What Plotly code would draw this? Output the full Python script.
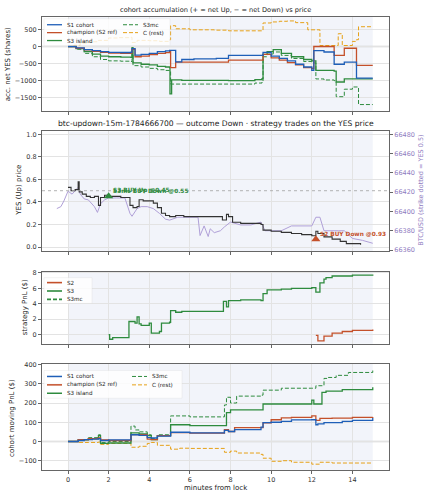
import plotly.graph_objects as go

# ---------------- data ----------------
# panel 1: accumulated net YES shares
acc_s1_x = [0,0.4,0.8,1.2,1.6,2.0,2.6,3.1,3.15,3.3,3.6,4.0,4.4,4.8,5.0,5.3,5.6,6.2,7.3,7.9,9.55,9.6,10.0,10.4,10.8,11.2,11.6,12.0,12.1,12.6,13.1,13.6,14.2,15.0]
acc_s1_y = [0,-40,-90,-120,-150,-170,-175,-165,-60,-250,-230,-200,-150,-130,-110,-450,-380,-360,-350,-260,-260,-170,-280,-350,-420,-520,-600,-700,-120,-160,-520,-460,-925,-925]
acc_s2_x = [0,0.4,0.8,1.2,1.6,2.0,2.6,3.1,3.15,3.3,3.6,4.0,4.4,4.8,5.0,5.05,5.3,6.2,7.3,7.9,9.55,9.6,10.0,10.4,10.8,11.2,11.6,12.0,12.1,13.1,13.6,14.2,15.0]
acc_s2_y = [0,-50,-100,-140,-170,-190,-200,-190,-80,-300,-280,-240,-200,-180,-150,-620,-460,-460,-460,-400,-400,-230,-330,-400,-470,-540,-620,-650,0,-260,-50,-550,-550]
acc_s3_x = [0,0.4,0.8,1.2,1.6,2.0,2.6,3.1,3.15,3.2,3.6,4.0,4.4,4.8,5.0,5.02,5.1,5.6,6.2,7.3,7.9,9.2,9.55,9.6,9.8,10.1,10.5,11.0,11.6,12.0,12.2,13.1,13.2,13.6,15.0]
acc_s3_y = [0,-60,-150,-220,-280,-300,-310,-320,-30,-480,-520,-540,-580,-600,-620,-1385,-980,-990,-990,-990,-1000,-970,-940,-230,-150,-90,-200,-300,-380,-420,-700,-720,-1040,-950,-950]
acc_s3mc_x = [0,0.4,0.8,1.2,1.6,2.0,2.6,3.1,3.15,3.2,3.6,4.0,4.4,4.8,5.0,5.05,5.6,7.3,7.9,9.2,9.55,9.6,9.8,10.1,10.5,11.0,11.6,12.0,12.2,12.6,13.1,13.2,13.6,14.0,14.3,15.0]
acc_s3mc_y = [0,-80,-200,-300,-380,-420,-430,-440,-200,-560,-600,-640,-680,-700,-720,-1100,-1100,-1100,-1100,-1070,-1040,-300,-220,-160,-260,-350,-440,-480,-950,-980,-1000,-1470,-1250,-1185,-1700,-1700]
acc_c_x = [0,0.3,0.6,1.0,1.5,2.0,2.5,3.1,3.15,3.4,4.0,4.5,5.0,5.05,5.3,6.0,7.2,7.9,9.55,9.6,10.0,10.4,10.8,11.2,11.8,12.4,13.2,13.3,13.5,14.0,14.2,14.3,15.0]
acc_c_y = [0,40,100,140,180,250,260,270,120,180,170,150,200,610,520,490,480,460,460,690,720,740,750,700,490,30,30,375,30,150,200,580,580]

# panel 2: YES price and BTC
yes_x = [0,0.15,0.35,0.5,0.55,0.7,0.9,1.1,1.3,1.5,1.6,1.8,2.0,2.3,2.6,2.9,3.05,3.2,3.4,3.5,3.7,4.0,4.2,4.4,4.6,4.8,5.0,5.3,5.7,6.2,7.5,7.6,7.8,7.9,8.1,8.5,9.0,9.5,9.6,10.0,10.5,11.0,11.5,12.0,12.2,12.3,12.6,13.0,13.4,13.7,14.4]
yes_y = [0.53,0.50,0.51,0.58,0.49,0.47,0.45,0.44,0.45,0.37,0.44,0.46,0.45,0.45,0.44,0.44,0.37,0.35,0.36,0.42,0.41,0.41,0.39,0.35,0.30,0.28,0.27,0.28,0.27,0.27,0.27,0.24,0.29,0.27,0.22,0.21,0.21,0.20,0.15,0.14,0.13,0.12,0.11,0.10,0.14,0.12,0.09,0.07,0.05,0.03,0.02]
btc_x = [-0.55,-0.35,-0.2,0,0.2,0.5,0.6,0.8,1.0,1.3,1.45,1.6,1.8,2.0,2.4,2.8,3.05,3.15,3.4,3.6,3.9,4.2,4.5,4.8,5.0,5.4,5.8,6.4,6.5,6.7,6.9,7.0,7.2,7.5,7.7,8.0,8.5,9.0,9.5,9.7,10.5,11.0,12.0,12.2,12.4,12.6,13.3,13.6,14.0,14.5,15.0]
btc_y = [66403,66405,66411,66421,66418,66425,66418,66413,66412,66405,66399,66408,66412,66414,66414,66414,66398,66395,66403,66405,66405,66403,66398,66392,66391,66394,66394,66394,66375,66385,66374,66382,66378,66380,66384,66389,66386,66386,66389,66380,66380,66385,66385,66394,66394,66380,66380,66380,66372,66370,66367]
strike_price = 0.5
trade_x = [2.0, 12.2]
trade_y = [0.45, 0.07]
trade_labels = ["S3 BUY Up @0.45", "S3mc BUY Down @0.55", "S2 BUY Down @0.93"]

# panel 3: strategy PnL
pnl_s3_x = [2.0,2.05,2.2,2.95,3.0,3.3,3.4,3.5,3.6,4.0,4.1,4.5,4.6,5.0,5.05,5.3,5.6,6.0,7.6,7.65,7.8,7.9,8.5,9.5,9.6,9.8,10.5,11.0,12.0,12.2,12.4,12.6,12.7,13.0,14.0,15.0]
pnl_s3_y = [0,-0.6,-0.4,-0.4,1.7,1.5,2.3,1.4,1.2,1.5,0.2,0.4,1.5,1.6,3.1,2.9,3.0,3.0,3.0,4.3,3.6,4.4,4.5,4.4,5.3,5.8,5.9,6.0,6.1,5.5,6.7,7.2,7.4,7.6,7.7,7.8]
pnl_s2_x = [12.2,12.3,12.6,13.0,13.5,14.0,15.0]
pnl_s2_y = [-0.1,-0.8,-0.2,0.2,0.4,0.55,0.65]

# panel 4: cohort moving PnL
mv_s1_x = [0,0.5,0.8,1.2,1.5,1.6,2.0,3.05,3.1,3.5,3.9,4.1,4.4,5.0,5.05,6.0,7.5,7.7,7.9,8.2,9.5,9.6,10.0,10.5,11.0,12.0,12.2,12.3,12.6,13.5,14.0,15.0]
mv_s1_y = [0,5,10,12,15,5,8,8,35,32,20,18,28,28,48,45,45,58,52,62,75,98,100,105,112,113,87,92,98,105,110,122]
mv_s2_x = [0,0.5,1.0,1.5,1.6,2.0,3.05,3.1,3.5,3.9,4.1,4.4,5.0,5.05,6.0,7.5,7.7,7.9,8.2,9.5,9.6,10.0,10.5,11.0,12.0,12.2,12.4,13.0,14.0,15.0]
mv_s2_y = [0,10,15,18,8,5,5,36,35,12,10,30,30,46,44,44,62,52,72,72,97,113,123,125,133,110,120,122,125,128]
mv_s3_x = [0,0.5,1.0,1.45,1.5,1.6,2.0,3.05,3.1,3.5,3.9,4.1,4.4,5.0,5.05,6.0,7.7,7.8,8.0,9.5,9.6,10.5,12.0,12.1,12.5,12.7,13.5,15.0]
mv_s3_y = [0,8,15,15,30,-10,-8,-8,45,40,30,10,30,30,87,82,82,150,164,164,195,195,215,195,255,262,270,282]
mv_s3mc_x = [0,0.5,1.0,1.5,1.6,2.0,3.05,3.1,3.3,3.5,3.9,4.1,4.4,5.0,5.05,6.0,7.5,7.7,7.8,8.0,8.3,9.5,9.6,10.5,12.0,12.2,12.6,12.8,13.2,13.8,15.0]
mv_s3mc_y = [0,10,20,35,-5,0,0,80,60,50,35,15,35,35,133,128,128,190,230,200,236,241,267,277,277,290,328,333,344,359,369]
mv_c_x = [0,0.5,1.0,1.5,1.6,2.0,3.05,3.1,3.5,3.9,4.1,4.4,5.0,5.05,5.5,6.0,7.5,7.7,8.0,8.3,9.5,9.6,10.0,10.5,11.0,12.0,12.4,13.0,15.0]
mv_c_y = [0,-5,-5,-3,-15,-10,-10,-30,-25,-10,-5,-20,-20,-40,-35,-36,-36,-56,-50,-60,-67,-87,-103,-100,-108,-118,-108,-112,-113]

x_ticks = [0,2,4,6,8,10,12,14]
cohort_names = ["S1 cohort", "champion (S2 ref)", "S3 island", "S3mc", "C (rest)"]
strategy_names = ["S2", "S3", "S3mc"]

# ---------------- styling ----------------
W, H = 429, 500
FONT = "DejaVu Sans"
BLUE = "#1f5fb8"
RED = "#c4502a"
GREEN = "#2e8b3e"
ORANGE = "#e6a117"
PURPLE = "#b0a0d8"
PURPLE_T = "#8f7cbf"
BLACK = "#333333"
SHADE = "#f2f4fa"
DASH = "4px,2px"

def py(p):
    return 1 - p / H

XD = [42 / W, 389 / W]
Y1 = [py(109), py(14)]
Y2 = [py(251), py(130)]
Y3 = [py(345), py(272)]
Y4 = [py(473), py(365)]

fig = go.Figure()

def step(x, y, color, xa, ya, dash="solid", width=1.3):
    fig.add_trace(go.Scatter(
        x=x, y=y, mode="lines", line=dict(color=color, width=width, dash=dash, shape="hv"),
        xaxis=xa, yaxis=ya, showlegend=False, hoverinfo="skip"))

# panel 1
step(acc_c_x, acc_c_y, ORANGE, "x", "y", dash=DASH, width=1.0)
step(acc_s3mc_x, acc_s3mc_y, GREEN, "x", "y", dash=DASH, width=1.0)
step(acc_s3_x, acc_s3_y, GREEN, "x", "y")
step(acc_s2_x, acc_s2_y, RED, "x", "y")
step(acc_s1_x, acc_s1_y, BLUE, "x", "y")

# panel 2: BTC on main (right) axis, price overlaid (left)
fig.add_trace(go.Scatter(x=btc_x, y=btc_y, mode="lines", line=dict(color=PURPLE, width=1.0),
                         xaxis="x2", yaxis="y2", showlegend=False))
fig.add_trace(go.Scatter(x=yes_x, y=yes_y, mode="lines", line=dict(color=BLACK, width=1.1, shape="hv"),
                         xaxis="x2", yaxis="y3", showlegend=False))
fig.add_trace(go.Scatter(x=trade_x, y=trade_y, mode="markers",
                         marker=dict(symbol="triangle-up", size=8, color=[GREEN, RED]),
                         xaxis="x2", yaxis="y3", showlegend=False))

# panel 3
step(pnl_s2_x, pnl_s2_y, RED, "x3", "y4")
step(pnl_s3_x, pnl_s3_y, GREEN, "x3", "y4")

# panel 4
step(mv_c_x, mv_c_y, ORANGE, "x4", "y5", dash=DASH, width=1.0)
step(mv_s3mc_x, mv_s3mc_y, GREEN, "x4", "y5", dash=DASH, width=1.0)
step(mv_s3_x, mv_s3_y, GREEN, "x4", "y5")
step(mv_s2_x, mv_s2_y, RED, "x4", "y5")
step(mv_s1_x, mv_s1_y, BLUE, "x4", "y5")

axis_common = dict(showline=True, mirror=True, linecolor="#666666", linewidth=1,
                   ticks="outside", ticklen=3, tickcolor="#666666", gridcolor="#e3e3e3",
                   gridwidth=0.6, zeroline=False, tickfont=dict(size=6.5, color="#333"))
XR = [-1.28, 15.8]
for name, anchor, labels in [("xaxis", "y", False), ("xaxis2", "y2", False),
                             ("xaxis3", "y4", False), ("xaxis4", "y5", True)]:
    fig.layout[name] = dict(domain=XD, anchor=anchor, range=XR, tickvals=x_ticks,
                            showticklabels=labels, **axis_common)

fig.layout.yaxis = dict(domain=Y1, anchor="x", range=[-1880, 870],
                        tickvals=[-1500, -1000, -500, 0, 500], **axis_common)
ax_btc = dict(axis_common)
ax_btc.update(tickfont=dict(size=6.5, color=PURPLE_T), showgrid=False)
fig.layout.yaxis2 = dict(domain=Y2, anchor="x2", side="right", range=[66359, 66483],
                         tickvals=[66360, 66380, 66400, 66420, 66440, 66460, 66480],
                         tickformat="d", **ax_btc)
fig.layout.yaxis3 = dict(overlaying="y2", anchor="x2", side="left", range=[-0.035, 1.026],
                         tickvals=[0, 0.2, 0.4, 0.6, 0.8, 1.0], tickformat=".1f", **axis_common)
fig.layout.yaxis4 = dict(domain=Y3, anchor="x3", range=[-1.2, 8.15],
                         tickvals=[0, 2, 4, 6, 8], **axis_common)
fig.layout.yaxis5 = dict(domain=Y4, anchor="x4", range=[-150, 405],
                         tickvals=[-100, 0, 100, 200, 300, 400], **axis_common)

shapes = []
for xr, yr in [("x", "y"), ("x2", "y2"), ("x3", "y4"), ("x4", "y5")]:
    shapes.append(dict(type="rect", xref=xr, yref=yr + " domain", x0=0, x1=15, y0=0, y1=1,
                       fillcolor=SHADE, line=dict(width=0), layer="below"))
for xr, yr in [("x", "y"), ("x4", "y5")]:
    shapes.append(dict(type="line", xref=xr + " domain", yref=yr, x0=0, x1=1, y0=0, y1=0,
                       line=dict(color="#cfcfcf", width=1.4), layer="below"))
shapes.append(dict(type="line", xref="x2 domain", yref="y3", x0=0, x1=1, y0=strike_price, y1=strike_price,
                   line=dict(color="#aaaaaa", width=0.9, dash="dot")))

ann = []
def text(t, xp, ypx, size=7, color="#222", angle=0, xanchor="center"):
    ann.append(dict(text=t, x=xp / W, y=py(ypx), xref="paper", yref="paper", showarrow=False,
                    xanchor=xanchor, yanchor="middle", textangle=angle,
                    font=dict(size=size, color=color)))

mid = (42 + 389) / 2
text("cohort accumulation (+ = net Up, − = net Down) vs price", mid, 7, size=6.6)
text("btc-updown-15m-1784666700 — outcome Down · strategy trades on the YES price", mid, 122, size=7.6)
text("minutes from lock", mid, 491, size=7)
text("acc. net YES (shares)", 8, 62, angle=-90)
text("YES (Up) price", 19, 190, angle=-90)
text("strategy PnL ($)", 25, 308, angle=-90)
text("cohort moving PnL ($)", 12, 420, angle=-90)
text("BTC/USD (strike dotted = YES 0.5)", 421, 190, angle=-90, color=PURPLE_T, size=6.5)

for i, lab in enumerate(trade_labels[:2]):
    ann.append(dict(text="<b>" + lab + "</b>", x=trade_x[0], y=trade_y[0], xref="x2", yref="y3",
                    xanchor="left", yanchor="bottom", xshift=2, yshift=0, showarrow=False,
                    font=dict(size=5.8, color=GREEN)))
ann.append(dict(text="<b>" + trade_labels[2] + "</b>", x=trade_x[1], y=trade_y[1], xref="x2", yref="y3",
                xanchor="left", yanchor="bottom", xshift=2, yshift=0, showarrow=False,
                font=dict(size=5.8, color=RED)))

# manual matplotlib-style legends
def legend_box(x0, y0, x1, y1):
    shapes.append(dict(type="rect", xref="paper", yref="paper", x0=x0 / W, x1=x1 / W,
                       y0=py(y1), y1=py(y0), fillcolor="rgba(255,255,255,0.8)",
                       line=dict(color="rgba(215,215,215,0.5)", width=0.6)))

def legend_entry(name, color, dash, xs, ypx, width=1.3):
    shapes.append(dict(type="line", xref="paper", yref="paper", x0=xs / W, x1=(xs + 15) / W,
                       y0=py(ypx), y1=py(ypx), line=dict(color=color, width=width, dash=dash)))
    text(name, xs + 18, ypx, size=5.6, xanchor="left")

cohort_styles = [(BLUE, "solid"), (RED, "solid"), (GREEN, "solid"), (GREEN, DASH), (ORANGE, DASH)]

legend_box(44, 16, 170, 43)
for i in range(3):
    legend_entry(cohort_names[i], *cohort_styles[i], 47, 22 + 8 * i)
for i in range(3, 5):
    legend_entry(cohort_names[i], *cohort_styles[i], 123, 22 + 8 * (i - 3), width=1.0)

legend_box(44, 278, 92, 304)
strat_styles = [(RED, "solid"), (GREEN, "solid"), (GREEN, DASH)]
for i in range(3):
    legend_entry(strategy_names[i], *strat_styles[i], 47, 283 + 8.5 * i, width=1.6)

legend_box(44, 372, 182, 400)
for i in range(3):
    legend_entry(cohort_names[i], *cohort_styles[i], 47, 378 + 8.5 * i, width=1.5)
for i in range(3, 5):
    legend_entry(cohort_names[i], *cohort_styles[i], 132, 378 + 8.5 * (i - 3), width=1.0)

fig.layout.shapes = shapes
fig.layout.annotations = ann

fig.update_layout(width=W, height=H, margin=dict(l=0, r=0, t=0, b=0),
                  paper_bgcolor="white", plot_bgcolor="white", showlegend=False,
                  font=dict(family=FONT, size=6.5, color="#222"))

fig.write_html("out.html")
